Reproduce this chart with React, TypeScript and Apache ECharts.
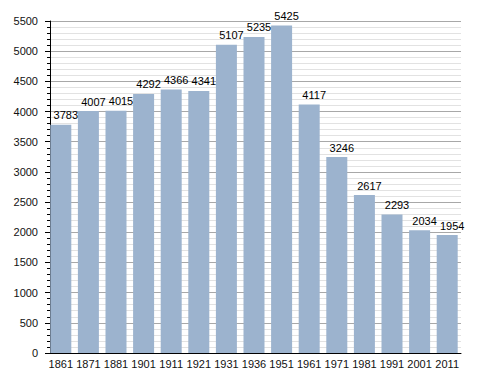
import React, { useEffect, useRef } from "react";
import * as echarts from "echarts";

const categories = ["1861", "1871", "1881", "1901", "1911", "1921", "1931", "1936", "1951", "1961", "1971", "1981", "1991", "2001", "2011"];
const population = [3783, 4007, 4015, 4292, 4366, 4341, 5107, 5235, 5425, 4117, 3246, 2617, 2293, 2034, 1954];

export default function App() {
  const ref = useRef<HTMLDivElement>(null);
  useEffect(() => {
    if (!ref.current) return;
    const chart = echarts.init(ref.current, undefined, { renderer: "svg" });
    const font = "Liberation Sans, Arial, sans-serif";
    chart.setOption({
      animation: false,
      grid: { left: 47, right: 27, top: 21, bottom: 20, containLabel: false },
      xAxis: {
        type: "category",
        data: categories,
        axisLine: { lineStyle: { color: "#000", width: 1 } },
        axisTick: { show: false },
        axisLabel: { color: "#111", fontSize: 11, fontFamily: font, margin: 5, interval: 0 },
        splitLine: { show: false },
      },
      yAxis: {
        type: "value",
        min: 0,
        max: 5500,
        interval: 500,
        offset: -3,
        axisLine: { show: true, lineStyle: { color: "#000", width: 1 } },
        axisTick: { show: true, length: 5, lineStyle: { color: "#000" } },
        minorTick: { show: true, splitNumber: 5, length: 3, lineStyle: { color: "#000" } },
        axisLabel: { color: "#111", fontSize: 11, fontFamily: font, margin: 12, formatter: (v: number) => String(v) },
        splitLine: { show: true, lineStyle: { color: "#a8a8a8", width: 1 } },
        minorSplitLine: { show: true, lineStyle: { color: "#e2e2e2", width: 1 } },
      },
      series: [
        {
          type: "bar",
          data: population,
          barWidth: 21,
          itemStyle: { color: "#9cb3ce" },
          label: {
            show: true,
            position: "top",
            distance: 4,
            offset: [5, 0],
            color: "#000",
            fontSize: 11,
            fontFamily: font,
            formatter: (p: any) => String(p.value),
          },
        },
      ],
    });
    return () => chart.dispose();
  }, []);
  return <div ref={ref} style={{ width: 488, height: 373, position: "absolute", left: 0, top: 0, background: "#fff" }} />;
}
